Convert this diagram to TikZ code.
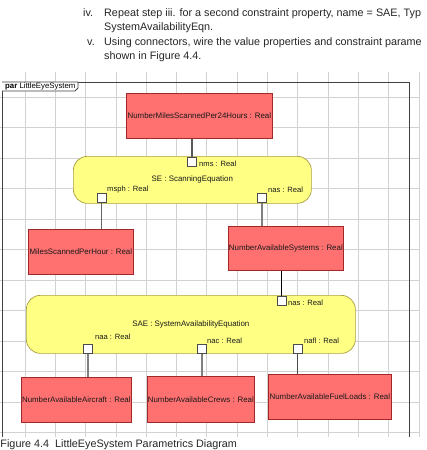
\documentclass[tikz,border=0pt]{standalone}
\usepackage{fontspec}
\setmainfont{Liberation Sans}
\definecolor{vfill}{HTML}{FF7070}
\definecolor{vline}{HTML}{A02828}
\definecolor{cfill}{HTML}{FFFF84}
\definecolor{cline}{HTML}{A8A040}
\definecolor{gridc}{HTML}{D2D2D2}
\definecolor{txt}{HTML}{1A1A1A}
\begin{document}
\begin{tikzpicture}[x=1pt,y=-1pt,
  gridline/.style={draw=gridc, line width=0.8pt},
  frameline/.style={draw=black!75, line width=0.8pt},
  valuebox/.style={draw=vline, fill=vfill, line width=0.7pt, inner sep=0pt, anchor=north west, text=txt, font=\fontsize{7.9}{9}\selectfont},
  consbox/.style={draw=cline, fill=cfill, line width=0.7pt, inner sep=0pt, anchor=north west, rounded corners=14pt, text=txt, font=\fontsize{7.9}{9}\selectfont},
  portbox/.style={draw=black!70, fill=white, line width=0.7pt, inner sep=0pt, minimum size=9pt, anchor=north west},
  plabel/.style={anchor=west, inner sep=0pt, text=txt, font=\fontsize{7.6}{8}\selectfont},
  bodytext/.style={anchor=base west, inner sep=0pt, text=black!85, font=\fontsize{10.8}{13}\selectfont},
  thinconn/.style={draw=black!70, line width=1pt},
  thickconn/.style={draw=black!50, line width=2pt}
]
\useasboundingbox (0,0) rectangle (427,450);
\fill[white] (0,0) rectangle (427,450);

% instruction text
\node[bodytext] (t1a) at (83,16) {iv.};
\node[bodytext] (t1b) at (104,16) {Repeat step iii. for a second constraint property, name = SAE, Typ};
\node[bodytext] (t2) at (104,30) {SystemAvailabilityEqn.};
\node[bodytext] (t3a) at (87,45) {v.};
\node[bodytext] (t3b) at (104,45) {Using connectors, wire the value properties and constraint parame};
\node[bodytext] (t4) at (104,59) {shown in Figure 4.4.};

% grid
\foreach \i in {0,...,13} \draw[gridline] ({25+30.3*\i},72) -- ({25+30.3*\i},437);
\foreach \j in {0,...,11} \draw[gridline] (0,{97+30.5*\j}) -- (420,{97+30.5*\j});

% frame
\draw[frameline] (2,437) -- (2,82) -- (409,82) -- (409,437);
\draw[frameline, fill=white] (2,82) -- (78,82) -- (78,88) -- (75,91) -- (2,91);
\node[anchor=west, inner sep=0pt, font=\fontsize{7.8}{8}\selectfont] (tab) at (5,86.5) {\textbf{par} LittleEyeSystem};

% value properties
\node[valuebox, minimum width=146pt, minimum height=45pt] (nms24) at (126,93) {NumberMilesScannedPer24Hours : Real};
\node[valuebox, minimum width=105pt, minimum height=45pt] (mileshr) at (28,229) {MilesScannedPerHour : Real};
\node[valuebox, minimum width=115pt, minimum height=44pt] (nasys) at (228,226) {NumberAvailableSystems : Real};
\node[valuebox, minimum width=110pt, minimum height=45pt] (naac) at (21,377) {NumberAvailableAircraft : Real};
\node[valuebox, minimum width=107pt, minimum height=46pt] (nacr) at (147,376) {NumberAvailableCrews : Real};
\node[valuebox, minimum width=123pt, minimum height=45pt] (nafu) at (268,374) {NumberAvailableFuelLoads : Real};

% constraint blocks
\node[consbox, minimum width=238pt, minimum height=47pt] (se) at (73,156) {SE : ScanningEquation};
\node[consbox, minimum width=329pt, minimum height=58pt] (sae) at (26,295) {SAE : SystemAvailabilityEquation};

% ports
\node[portbox] (pnms) at (187,156.5) {};
\node[portbox] (pmsph) at (97,193) {};
\node[portbox] (psenas) at (257,193) {};
\node[portbox] (psaenas) at (277,295.5) {};
\node[portbox] (pnaa) at (83,344) {};
\node[portbox] (pnac) at (197,344) {};
\node[portbox] (pnafl) at (293,344) {};

% port labels
\node[plabel] (lnms) at (199,164) {nms : Real};
\node[plabel] (lmsph) at (107,190) {msph : Real};
\node[plabel] (lsenas) at (268,190) {nas : Real};
\node[plabel] (lsaenas) at (288,303) {nas : Real};
\node[plabel] (lnaa) at (95,337) {naa : Real};
\node[plabel] (lnac) at (207,341) {nac : Real};
\node[plabel] (lnafl) at (304,341) {nafl : Real};

% connectors
\draw[draw=black!65, line width=1.5pt] (pnms.north) -- (pnms.north |- nms24.south);
\draw[thinconn, draw=black!60] (pmsph.south) -- (pmsph.south |- mileshr.north);
\draw[thickconn, line width=1.7pt] (psenas.south) -- (psenas.south |- nasys.north);
\draw[thinconn, draw=black] (psaenas.north) -- (psaenas.north |- nasys.south);
\draw[thickconn] (pnaa.south) -- (pnaa.south |- naac.north);
\draw[thickconn] (pnac.south) -- (pnac.south |- nacr.north);
\draw[thinconn] (pnafl.south) -- (pnafl.south |- nafu.north);

% caption
\node[bodytext] (cap) at (0.3,447) {Figure 4.4\ \ LittleEyeSystem Parametrics Diagram};
\end{tikzpicture}
\end{document}
